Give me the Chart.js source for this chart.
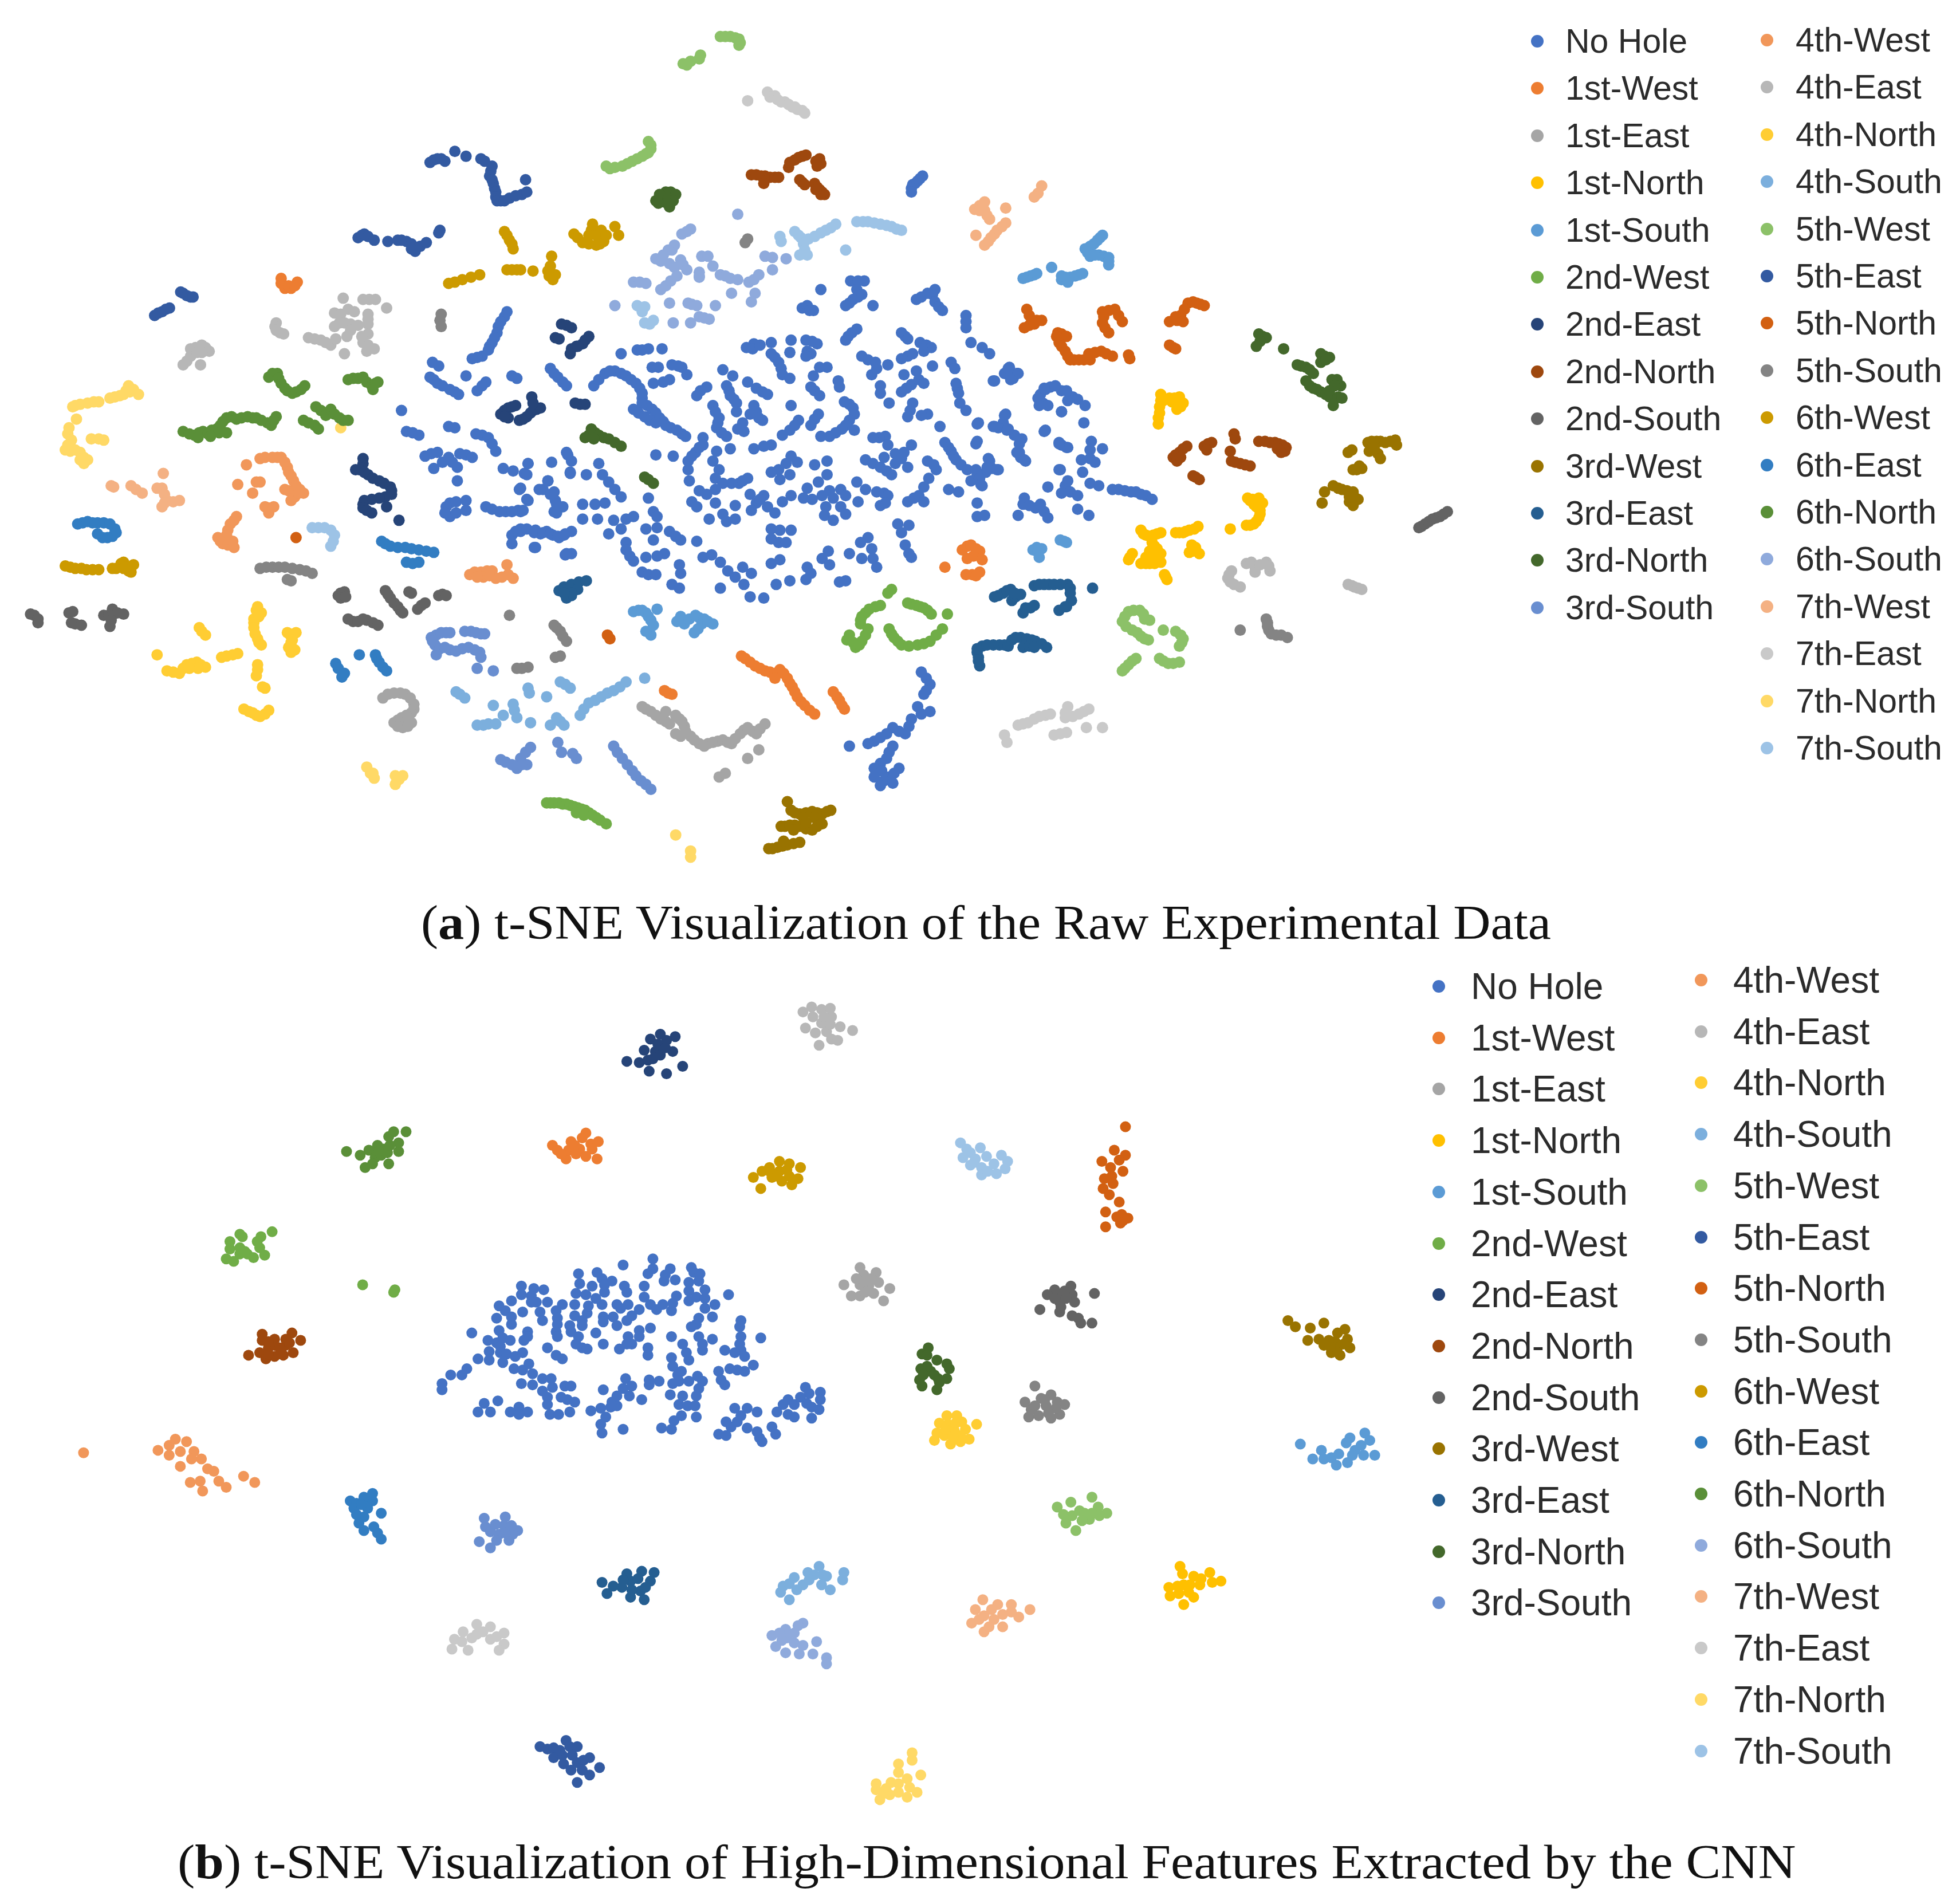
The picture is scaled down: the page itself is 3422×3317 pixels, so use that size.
<!DOCTYPE html>
<html lang="en">
<head>
<meta charset="UTF-8" />
<title>t-SNE Visualization</title>
<script src="https://cdn.jsdelivr.net/npm/chart.js"></script>
<style>
    body { margin: 0; background: #fff; width: 3422px; height: 3317px; position: relative; overflow: hidden; }
    canvas { position: absolute; }
    .lg { position: absolute; font-family: "Liberation Sans", Arial, sans-serif; color: #2b2b2b; white-space: nowrap; line-height: 1; transform: translateY(-50%); }
    .dot { position: absolute; width: 22px; height: 22px; border-radius: 50%; transform: translate(-50%, -50%); }
    .cap { position: absolute; font-family: "Liberation Serif", serif; font-size: 84px; color: #111; white-space: nowrap; line-height: 1; transform-origin: 0 50%; }
</style>
</head>
<body>
<canvas id="chartA" width="2641" height="1528" style="left:0;top:0"></canvas>
<canvas id="chartB" width="2466" height="1571" style="left:0;top:1658px"></canvas>
<div class="cap" id="capA" data-w="1973" style="left:735px;top:1569px">(<b>a</b>) t-SNE Visualization of the Raw Experimental Data</div>
<div class="cap" id="capB" data-w="2826" style="left:310px;top:3209px">(<b>b</b>) t-SNE Visualization of High-Dimensional Features Extracted by the CNN</div>
<script>
const labels = ["No Hole", "1st-West", "1st-East", "1st-North", "1st-South", "2nd-West", "2nd-East", "2nd-North", "2nd-South", "3rd-West", "3rd-East", "3rd-North", "3rd-South",
    "4th-West", "4th-East", "4th-North", "4th-South", "5th-West", "5th-East", "5th-North", "5th-South", "6th-West", "6th-East", "6th-North", "6th-South", "7th-West", "7th-East", "7th-North", "7th-South"]
const colors = ["#4472c4", "#ed7d31", "#a5a5a5", "#ffc000", "#5b9bd5", "#70ad47", "#264478", "#9e480e", "#636363", "#997300", "#255e91", "#43682b", "#698ed0",
    "#f1975a", "#b7b7b7", "#ffcd33", "#7cafdd", "#8cc168", "#335aa1", "#d26012", "#848484", "#cc9a00", "#327dc2", "#5a8f38", "#8faadc", "#f4b183", "#c9c9c9", "#ffd966", "#9dc3e6"]

// panel (a): raw data
const aNoHole = [[681,223],[687,223],[692,223],[686,230],[690,234],[687,236],[683,238],[680,241],[677,243],[699,243],[657,230],[642,245],[646,243],[648,247],[651,247],
[749,230],[747,234],[743,233],[738,236],[734,238],[749,240],[752,244],[755,247],[774,251],[774,256],[774,261],[778,273],[787,277],[793,282],[686,262],[682,265],[679,268],[677,271],[722,265],[725,268],[727,270],
[603,274],[597,277],[602,278],[608,275],[617,273],[633,271],[645,271],[650,272],[654,274],[646,280],[649,282],[496,282],[509,279],[513,279],[518,278],[529,278],
[439,294],[442,298],[445,301],[449,305],[452,308],[474,308],[478,303],[483,298],[487,296],[491,296],[496,298],[500,300],[504,303],[508,306],[511,310],[513,314],[513,318],[513,322],[517,324],[521,327],[524,330],[527,334],[530,337],[532,340],[536,342],[541,344],[545,347],[548,349],[506,327],[510,330],[515,333],[519,336],[524,338],
[521,293],[526,293],[537,291],[542,292],[545,293],[549,299],[535,303],[530,305],[522,306],[578,295],[586,300],[598,305],[565,309],[560,312],[557,316],[581,308],[583,312],[584,316],[587,319],[589,322],[589,329],[605,310],[610,313],[614,315],[570,324],[572,329],[575,334],[574,338],[573,342],[577,346],[581,349],[594,338],[595,345],[603,324],[605,329],[607,334],[562,350],[590,343],[600,331],[610,336],
[617,282],[620,285],[623,289],[625,294],[626,299],[632,302],[632,281],[645,284],[649,309],[652,312],[656,316],[662,293],[656,293],[671,304],[672,309],[651,300],
[633,324],[639,336],[636,340],[632,344],[626,348],[676,321],[680,323],[683,326],[684,331],[655,331],[652,335],[649,340],[680,336],[677,340],[674,343],[669,346],[664,349],[657,349],[684,344],[617,356],[611,357],[603,359],
[690,284],[695,287],[701,289],[711,291],[698,299],[702,294],[705,308],[705,314],[712,322],[722,286],[727,284],[731,282],[737,273],[742,275],[746,277],[740,280],[747,292],
[724,299],[734,296],[730,307],[726,310],[722,313],[736,303],[740,306],[762,289],[765,294],[766,306],[767,310],[768,314],[769,322],[774,328],[731,322],[729,328],[727,333],[743,331],[738,332],[753,341],
[809,293],[815,298],[812,302],[805,298],[797,304],[834,315],[838,311],[842,309],[851,312],[836,322],[860,317],[851,329],[806,331],[804,338],[796,341],[800,342],[807,344],[784,338],[838,344],
[709,349],[704,350],[699,350],[711,356],[730,356],[724,362],[717,363],[693,368],[699,371],[705,374],[710,377],[717,371],[714,380],[727,374],[722,367],[708,366],
[757,354],[760,358],[762,361],[764,365],[766,368],[770,372],[775,376],[782,355],[793,369],[800,376],[795,375],[790,378],[778,385],[787,389],[783,380],[819,351],[815,362],[818,366],[822,369],[851,356],[856,358],[850,376],
[743,369],[748,372],[750,376],[744,383],[740,390],[760,392],[768,394],[727,402],[732,399],[736,397],[740,402],[693,392],[702,394],[708,395],[711,397],[705,405],[709,403],
[524,364],[538,365],[556,362],[559,358],[562,356],[550,369],[553,365],[550,376],[551,385],[573,361],[584,359],[570,369],[575,376],[572,383],[578,387],[585,387],[598,383],[591,387],[594,385],
[559,393],[553,402],[557,406],[572,392],[565,396],[572,403],[567,416],[578,412],[588,405],[588,416],[581,418],[600,396],[605,403],[611,397],[601,409],[614,406],[620,411],[626,402],[633,397],[608,400],
[633,365],[629,371],[638,370],[623,376],[617,378],[632,380],[624,384],[652,372],[662,369],[662,380],[655,386],[646,391],[643,399],[658,397],[673,392],[686,386],[650,400],[664,393],
[667,399],[677,397],[687,402],[661,406],[673,406],[660,413],[667,417],[677,412],[617,424],[624,425],[633,425],[617,432],[623,435],[629,435],
[719,420],[728,421],[722,427],[725,437],[728,444],[730,447],[695,431],[689,435],[698,440],[699,448],[690,448],[702,455],[680,444],[663,442],[658,448],[664,453],
[617,452],[624,449],[646,455],[649,460],[645,465],[677,466],[672,467],[632,466],[621,469],[562,447],[569,445],[576,451],[582,458],[588,463],[595,469],[600,479],[611,480],[594,455],[601,460],[576,472],
[535,426],[540,430],[544,433],[557,434],[500,416],[506,414],[496,424],[486,428],[516,424],[525,423],[522,433],[522,410],[525,414],[518,399],[465,416],[477,416],[490,417],[465,404],[475,404],[483,403],[496,398],
[500,435],[500,441],[503,446],[531,444],[525,446],[506,450],[516,447],[513,459],[518,461],[524,461],[543,453],[544,460],[537,469],[543,472],
[478,371],[481,380],[486,386],[491,392],[452,362],[456,369],[440,370],[455,378],[468,380],[437,385],[433,392],[442,394],[443,401],[442,410],[449,406],[421,371],[418,379],[415,391],[420,400],[415,410],
[415,426],[426,427],[431,428],[436,426],[441,429],[446,431],[451,428],[456,426],[426,439],[451,445],[456,444],
[783,353],[817,355],[817,362],[813,348],[821,368],[849,354],[855,358],[875,353],[874,360],[884,359],[874,367],[867,368],[878,370],[792,367],[782,376],[791,374],[799,376],[785,383],[786,388],
[849,376],[868,378],[874,387],[881,389],[840,390],[854,389],[858,394],[864,397],[851,395],[856,385],[892,392],[897,392],[902,393],[907,394],[911,394],[915,396],[919,397],[924,400],
[821,399],[820,404],[825,405],[830,407],[837,410],[840,415],[834,404],[816,413],[864,408],[873,413],[783,403],[783,414],[789,413],
[808,294],[816,298],[810,303],[796,304],[832,318],[837,310],[846,308],[855,312],[833,324],[840,324],[856,320],[864,319],[870,324],[851,329],[805,332],[783,339],[797,341],[808,343],[837,345],[869,338],[849,355],
[738,540],[742,545],[745,550],[742,555],[740,558],[735,568],[745,572],[738,574],[730,578],[728,584],[725,590],[720,588],[715,585],[710,590],[705,593],[700,596],[695,598],[680,600],[715,600],[712,605],[710,610],[705,614],[700,618],[706,620],[712,625],[708,628],[705,632],[715,630],[700,625],[720,618],[716,622],[739,138],[737,140],[735,142],[733,144],[731,145],[730,148],[730,151],
[404,248],[402,252],[399,256],[397,260],[396,265],[394,269],[392,273],[390,276],[389,279],[384,284],[380,285],[376,286],[344,289],[349,292],[342,301],[345,303],[348,306],[352,308],[358,311],[362,313],[365,315],[371,300],[387,305],[384,308],[380,312],[408,300],[412,302],[319,328],[323,345],[328,346],[333,348],[357,341],[362,342],[379,347],[384,348],[389,350],[392,355],[395,361],
[338,365],[343,363],[348,362],[357,366],[366,363],[371,364],[376,366],[345,375],[364,374],[352,370],[360,370],[364,385],[401,375],[409,377],[421,371],[420,380],[414,392],[421,401],[355,406],[358,403],[363,402],[371,401],[358,414],[354,411],[363,411],[371,409],[387,406],[392,408],[398,410],[403,410],[408,410],[413,409],[417,409],
[408,429],[411,426],[415,424],[420,424],[427,425],[433,427],[439,428],[445,430],[450,429],[408,436],[427,439],[452,444],[430,392],[437,385],[439,396],[444,404],[444,411],[453,364],[455,379]]
const aW1 = [[222,225],[225,229],[230,229],[235,224],[222,221],[228,227],[233,227],[757,455],[771,441],[775,438],[778,437],[782,440],[785,442],[775,448],[780,446],[787,449],[774,461],[779,461],[785,459],[782,462],[593,527],[596,529],[600,532],[604,535],[608,537],[612,539],[616,540],[620,541],[624,538],[627,541],[630,545],[632,549],[634,552],[636,556],[638,560],[641,564],[644,567],[648,571],[652,574],[667,556],[670,560],[672,563],[674,567],[676,570],[620,545],[534,557],[537,558],[531,555]]
const aE1 = [[513,568],[516,570],[520,572],[524,575],[528,578],[532,580],[535,582],[540,575],[543,578],[545,580],[547,584],[548,588],[552,592],[555,595],[559,598],[563,600],[566,598],[570,597],[574,596],[578,595],[582,597],[585,598],[588,594],[592,590],[595,587],[598,585],[602,588],[605,590],[608,586],[612,582],[607,603],[598,610],[575,625],[580,622],[540,590],[544,592],[532,572],
[304,561],[308,558],[313,557],[318,557],[322,558],[326,561],[329,566],[329,570],[327,573],[323,575],[319,577],[316,579],[313,581],[316,584],[320,585],[324,584],[327,581]]
const aN1 = [[915,425],[917,428],[919,429],[922,430],[925,429],[928,428],[931,427],[924,435],[926,438],[928,440],[922,442],[925,443],[931,444],[919,447],[925,448],[928,448],[915,452],[919,452],[922,452],[926,452],[931,451],[908,444],[906,447],[905,449],[934,461],[935,463],[936,465],[943,427],[946,427],[949,427],[951,426],[954,425],[958,424],[961,422],[956,437],[954,443],[957,442],[962,444],[959,439],
[987,424],[1000,421],[1003,421],[1006,420],[1008,418],[1010,415],[1011,412],[1011,409],[1008,406],[1006,404],[1003,401],[1001,399],[1005,400],[1010,399],[1013,403],[931,315],[931,320],[930,325],[930,330],[929,334],[929,339],[933,320],[938,318],[942,318],[946,317],[949,322],[947,325],[944,327],[940,321]]
const aS1 = [[884,186],[882,188],[880,190],[877,193],[874,195],[870,197],[872,200],[874,203],[878,202],[881,202],[885,203],[889,204],[889,207],[889,210],[820,221],[823,220],[826,219],[829,218],[831,217],[843,212],[851,222],[856,224],[854,220],[851,219],[858,220],[862,219],[865,218],[868,217],[850,433],[853,434],[855,435],[828,441],[831,439],[835,440],[832,443],[833,447],
[506,491],[510,490],[513,490],[516,492],[518,495],[520,498],[522,502],[525,489],[544,495],[541,499],[547,501],[551,497],[556,494],[559,496],[563,497],[561,501],[566,499],[570,501],[555,508],[558,505],[520,510],[516,507]]
const aW2 = [[714,473],[711,476],[705,486],[701,487],[696,489],[693,492],[690,495],[689,498],[689,501],[727,484],[730,485],[734,486],[737,487],[740,488],[743,490],[746,493],[759,493],[680,510],[678,514],[685,520],[683,516],[695,505],[693,510],[690,515],[688,518],[712,505],[714,509],[716,512],[719,515],[722,518],[728,519],[735,518],[740,517],[745,515],[750,510],[755,505],[436,646],[439,646],[442,646],[446,646],[449,647],[452,647],[455,648],[458,649],[461,650],[464,651],[467,652],[470,654],[473,656],[476,658],[479,660],[484,663],[460,654],[466,656]]
const aE2 = [[399,331],[402,328],[405,326],[408,325],[411,324],[405,334],[402,333],[414,336],[417,335],[420,333],[423,330],[425,328],[428,327],[431,326],[424,317],[425,322],[448,258],[452,259],[456,261],[443,269],[446,270],[470,268],[467,271],[465,274],[460,276],[456,278],[455,282],[461,276],[459,322],[463,323],[467,323],
[288,367],[288,371],[287,375],[282,376],[285,376],[289,378],[292,380],[296,383],[301,385],[305,387],[310,390],[311,393],[311,396],[306,398],[301,399],[295,400],[289,401],[288,404],[288,407],[291,409],[295,411],[307,406],[317,417]]
const aN2 = [[601,137],[605,137],[609,138],[612,138],[616,139],[620,139],[623,139],[611,144],[631,131],[632,127],[636,125],[639,123],[642,122],[645,121],[656,124],[657,128],[653,126],[654,130],[640,141],[642,143],[644,145],[652,144],[654,147],[656,149],[658,151],[660,153],[657,153],[653,149],
[941,366],[943,364],[946,362],[949,359],[952,357],[944,369],[947,366],[966,357],[969,355],[972,354],[968,360],[987,361],[990,347],[991,351],[988,369],[991,370],[995,371],[999,372],[1003,373],[957,381],[959,382],[962,384],[1010,353],[1015,353],[1019,354],[1023,354],[1026,355],[1029,356],[1032,358],[1031,361],[1028,362],[1025,359]]
const aS2 = [[20,493],[23,494],[26,497],[26,500],[51,492],[54,491],[53,500],[56,501],[61,502],[86,489],[79,494],[83,494],[86,494],[90,492],[95,493],[84,503],[85,498],[268,478],[270,476],[273,475],[270,480],[274,479],[306,474],[308,477],[310,480],[313,484],[316,487],[318,490],[320,492],[325,475],[327,476],[332,489],[335,486],[338,484],[349,478],[352,477],[355,478],
[276,497],[280,499],[284,499],[288,497],[291,498],[296,500],[300,502],[1139,423],[1141,422],[1144,420],[1147,418],[1150,416],[1153,415],[1156,414],[1159,412],[1162,410]]
const aW3 = [[1082,362],[1085,360],[1098,354],[1101,353],[1105,353],[1108,353],[1112,354],[1116,353],[1120,352],[1121,356],[1099,361],[1103,358],[1106,363],[1108,367],[1086,376],[1089,376],[1093,375],[1091,373],[1070,389],[1074,391],[1077,392],[1081,393],[1086,394],[1063,394],[1061,403],[1083,402],[1087,398],[1090,400],[1086,405],[1083,398],
[630,645],[633,652],[636,654],[640,655],[645,654],[650,653],[654,654],[658,655],[662,653],[665,652],[643,658],[652,658],[625,665],[628,665],[632,664],[636,664],[640,665],[645,667],[650,668],[654,665],[658,663],[635,668],[645,662],[615,683],[618,683],[622,682],[626,681],[630,680],[635,679],[640,678],[627,677]]
const aE3 = [[797,479],[800,478],[804,476],[807,474],[810,473],[811,482],[814,479],[818,477],[813,476],[829,486],[826,488],[820,492],[822,488],[829,470],[833,469],[837,469],[841,469],[845,469],[850,469],[856,469],[858,472],[858,476],[859,482],[854,487],[849,490],[855,487],[876,472],[785,535],[784,531],[784,528],[783,524],[783,521],[787,519],[791,518],[796,518],[801,518],[805,518],[808,519],[811,514],[814,512],[818,512],[823,513],[827,514],[830,515],[835,517],[839,520],[820,520],[825,519],[829,520],
[446,474],[450,471],[456,469],[462,467],[468,466],[452,480],[456,478],[461,473],[456,476],[450,476]]
const aN3 = [[536,151],[532,151],[540,153],[528,156],[531,159],[535,163],[524,158],[527,153],[534,156],[538,158],[533,160],[526,160],[472,343],[470,348],[475,346],[478,348],[482,350],[486,351],[491,354],[496,357],[474,351],[467,350],[515,382],[518,384],[522,387],
[1010,266],[1013,268],[1016,269],[1011,272],[1008,276],[1030,278],[1060,282],[1063,284],[1067,285],[1060,289],[1064,287],[1041,291],[1044,292],[1048,293],[1051,295],[1054,298],[1073,303],[1069,303],[1076,308],[1071,308],[1051,308],[1054,310],[1057,311],[1060,313],[1064,315],[1067,317],[1071,319],[1074,317],[1077,318],[1070,324],[1067,312],[1048,304]]
const aS3 = [[343,512],[347,510],[351,508],[355,508],[358,508],[370,507],[375,507],[379,508],[383,509],[386,509],[346,518],[344,515],[347,526],[350,521],[354,520],[358,522],[363,523],[368,521],[373,520],[378,522],[382,524],[380,537],[393,539],[383,528],[399,611],[403,613],[408,615],[412,618],[415,610],[419,605],[423,601],[420,615],[416,615],[445,597],[448,605],[460,610],[457,606],[490,600],[493,605],[497,610],[501,615],[505,620],[508,624],[512,628],[516,631],[520,635]]
const aW4 = [[194,372],[205,367],[209,366],[215,366],[219,366],[222,366],[225,370],[227,374],[228,378],[230,381],[232,385],[234,389],[237,392],[240,395],[225,392],[228,393],[231,394],[230,401],[233,398],[236,395],[187,388],[202,386],[205,386],[199,395],[209,406],[212,407],[216,406],[212,411],[186,414],[184,417],[181,420],[179,425],[178,429],[171,431],[173,434],[175,436],[179,437],[184,439],[183,434],[374,461],[378,459],[383,459],[388,458],[392,458],[404,453],[409,464],[405,461],[395,464],[400,463],[385,463],[390,462],[380,463]]
const aE4 = [[985,464],[987,467],[990,469],[995,471],[988,458],[986,461],[1000,452],[1004,451],[1007,455],[1007,459],[1011,453],[1016,451],[1019,458],[1018,454],[1082,469],[1085,470],[1087,471],[1090,472],[1093,473],[143,291],[146,288],[149,284],[149,278],[153,277],[158,275],[161,277],[164,280],[157,291],[154,281],[158,281],
[272,237],[288,238],[293,238],[298,238],[307,245],[265,249],[270,250],[276,246],[281,248],[292,250],[292,254],[265,260],[269,257],[273,257],[278,258],[284,259],[292,258],[275,268],[278,263],[244,269],[249,270],[254,271],[258,273],[262,275],[266,270],[273,282],[288,273],[292,275],[297,278],[291,280],[292,266],[287,268],[218,257],[217,260],[218,263],[221,265],[224,266]]
const aN4 = [[156,504],[158,507],[161,510],[122,526],[130,539],[135,540],[140,541],[143,537],[146,534],[150,533],[154,532],[157,534],[161,536],[155,537],[148,537],[174,528],[178,527],[183,526],[187,525],[203,487],[206,492],[202,490],[200,497],[204,495],[200,500],[200,504],[201,509],[203,513],[204,516],[206,518],[227,508],[230,511],[234,508],[231,514],[230,516],[228,520],[230,524],[233,522],[203,534],[203,538],[202,543],[209,553],[207,552],[192,570],[196,572],[199,573],[202,575],[205,576],[209,574],[212,571]]
const aS4 = [[363,556],[366,558],[370,561],[380,583],[385,583],[389,582],[395,582],[393,567],[401,575],[409,566],[410,571],[412,577],[423,581],[421,553],[422,557],[436,560],[447,548],[451,550],[455,553],[439,583],[447,580],[444,577],[450,583],[463,575],[466,570],[470,565],[475,563],[480,560],[485,557],[490,555],[495,552],[500,548],[515,545]]
const aW5 = [[576,25],[580,25],[584,25],[588,26],[591,27],[592,30],[591,32],[546,47],[549,48],[552,45],[559,43],[560,40],[518,110],[520,113],[520,116],[518,119],[516,120],[513,122],[509,124],[505,126],[501,128],[497,130],[491,131],[487,132],[484,130],
[905,491],[909,490],[914,490],[917,493],[900,499],[902,495],[903,503],[908,506],[922,498],[918,497],[912,508],[915,511],[918,513],[921,514],[933,506],[943,507],[947,510],[949,513],[948,516],[946,519],[911,529],[908,531],[905,534],[902,537],[900,539],[930,529],[933,531],[937,533],[941,533],[946,532]]
const aE5 = [[342,127],[345,125],[348,124],[351,124],[354,126],[362,118],[371,122],[383,124],[386,126],[392,130],[391,134],[390,138],[392,141],[393,144],[394,148],[395,151],[395,155],[396,158],[399,158],[402,158],[406,156],[411,154],[416,153],[420,151],[419,141],[284,188],[287,186],[289,185],[292,187],[297,190],[308,191],[316,190],[319,190],[323,191],[327,193],[329,196],[330,199],[334,195],[339,192],[327,197],[350,182],[349,184],[120,251],[123,249],[126,248],[129,246],[132,245],[141,232],[143,233],[146,235],[149,236],[151,236]]
const aN5 = [[823,246],[825,251],[827,255],[831,255],[835,255],[821,261],[825,259],[829,258],[848,265],[851,266],[855,268],[847,268],[849,273],[851,276],[854,280],[856,284],[858,287],[861,287],[865,287],[869,287],[874,287],[873,282],[878,281],[883,280],[887,282],[892,284],[906,286],[905,283],[884,248],[889,247],[894,246],[897,251],[900,256],[884,257],[885,252],[886,261],[889,265],[953,241],[957,240],[960,241],[963,242],[966,243],[950,246],[947,251],[943,252],[938,256],[944,255],[949,256],[938,275],[941,277],[943,278],[234,431],[485,510],[487,513]]
const aS5 = [[205,456],[210,455],[215,455],[220,455],[225,455],[231,456],[237,457],[242,458],[247,460],[230,466],[227,465],[442,502],[444,504],[447,507],[449,511],[452,515],[443,528],[447,527],[406,494],[421,536],[416,537],[412,537],[995,506],[1016,497],[1017,500],[1017,503],[1018,506],[1020,509],[1024,510],[1028,510],[1033,512],[598,189],[596,192],[351,250],[350,255],[351,260]]
const aW6 = [[402,183],[404,186],[406,190],[408,193],[409,197],[357,225],[362,224],[368,222],[375,220],[382,218],[404,214],[408,214],[412,214],[415,214],[425,215],[440,203],[437,215],[439,211],[441,222],[443,218],[438,219],[458,185],[461,188],[465,192],[470,193],[473,177],[472,182],[476,194],[479,193],[482,191],[491,179],[494,186],[470,186],[476,186],[480,182],[484,186],[48,454],[52,455],[56,456],[61,456],[65,457],[70,457],[75,457],[86,456],[89,456],[93,452],[95,451],[97,455],[101,459],[99,458],[95,456],[103,453]]
const aE6 = [[58,420],[62,419],[66,418],[70,419],[74,419],[79,419],[84,420],[88,424],[89,427],[86,430],[82,431],[78,431],[74,428],[303,434],[306,436],[310,438],[316,439],[322,439],[327,440],[333,441],[339,442],[345,443],[323,451],[328,452],[333,451],[266,533],[268,537],[271,544],[273,541],[285,526],[298,526],[299,529],[301,532],[304,536],[307,539]]
const aN6 = [[212,301],[215,298],[219,298],[220,302],[222,306],[225,310],[227,312],[231,314],[234,313],[238,311],[241,308],[276,303],[280,302],[284,302],[288,301],[291,305],[295,308],[298,306],[300,305],[296,311],[143,345],[148,347],[152,348],[156,346],[159,345],[163,347],[166,344],[170,343],[173,340],[175,337],[178,334],[182,333],[186,335],[190,334],[195,333],[199,334],[202,334],[206,336],[211,338],[214,340],[218,333],[216,336],[178,346],[172,346],[165,349],[155,350],
[240,336],[244,338],[249,340],[252,343],[250,325],[254,328],[258,332],[262,327],[265,331],[269,334],[272,336],[276,336]]
const aS6 = [[552,181],[549,183],[545,185],[590,169],[539,194],[537,198],[534,198],[530,202],[524,205],[528,207],[535,209],[539,212],[544,206],[546,210],[549,214],[561,203],[566,203],[570,211],[559,220],[559,216],[576,218],[580,219],[584,221],[590,222],[599,224],[603,222],[607,218],[612,203],[618,204],[629,205],[618,214],[506,224],[511,224],[516,225],[528,230],[532,227],[536,223],[541,219],[559,219],[585,233],[604,233],[601,240],[535,241],[550,241],[553,242],[557,243],[572,243],[559,252],[563,253],[567,254],[538,257],[552,257],[491,243]]
const aW7 = [[789,159],[785,162],[781,165],[785,166],[789,166],[791,170],[793,173],[806,164],[806,176],[803,179],[799,182],[797,185],[794,188],[792,191],[789,194],[782,186],[835,146],[832,152],[829,155],[85,389],[87,390],[101,389],[105,392],[110,395],[127,379],[126,391],[122,391],[128,396],[130,401],[126,406],[128,403],[135,402],[140,401]]
const aE7 = [[598,77],[614,70],[616,74],[620,73],[622,76],[625,78],[628,78],[631,80],[634,82],[636,82],[638,84],[642,85],[644,87],[805,591],[807,597],[816,583],[820,582],[824,581],[829,578],[833,576],[838,575],[842,574],[856,568],[854,573],[854,577],[860,576],[865,574],[869,572],[873,570],[845,591],[850,590],[855,589],[871,585],[884,585]]
const aN7 = [[54,325],[56,324],[60,323],[66,322],[71,321],[75,321],[84,318],[88,317],[92,316],[99,308],[97,312],[95,315],[100,313],[103,311],[107,315],[57,335],[51,342],[50,347],[53,352],[50,356],[48,360],[52,361],[56,360],[60,362],[63,366],[66,368],[63,371],[60,368],[69,351],[79,352],[75,351],[291,617],[294,622],[297,626],[296,622],[314,624],[320,624],[317,627],[314,631],[540,672],[552,685],[552,690],[270,342]]
const aS7 = [[636,183],[639,186],[641,188],[643,193],[644,198],[640,202],[646,202],[624,187],[625,191],[647,189],[652,187],[657,184],[661,182],[665,180],[669,177],[677,198],[686,175],[691,175],[695,175],[700,176],[705,177],[710,178],[714,179],[718,181],[722,182],[247,423],[252,423],[257,423],[262,425],[265,429],[264,434],[262,438],[509,243],[515,244],[513,248],[515,257],[519,258],[522,255]]
const seriesA = [aNoHole, aW1, aE1, aN1, aS1, aW2, aE2, aN2, aS2, aW3, aE3, aN3, aS3, aW4, aE4, aN4, aS4, aW5, aE5, aN5, aS5, aW6, aE6, aN6, aS6, aW7, aE7, aN7, aS7]

// panel (b): CNN features
const bNoHole = [[522,1006],[498,1011],[522,1014],[518,1018],[536,1014],[532,1019],[531,1024],[540,1023],[553,1013],[555,1017],[560,1018],[559,1024],[462,1018],[463,1026],[477,1017],[481,1022],[489,1024],[473,1028],[483,1027],[483,1033],[416,1028],[416,1035],[426,1030],[434,1031],[424,1036],[424,1041],[428,1041],[437,1041],[499,1028],[501,1033],[515,1028],[515,1037],[520,1043],[525,1047],[530,1043],[541,1036],[538,1042],[537,1048],
[551,1025],[551,1032],[551,1040],[557,1037],[564,1031],[564,1038],[572,1043],[564,1046],[583,1035],[570,1053],[559,1054],[557,1059],[553,1061],[593,1056],[592,1061],[593,1069],[609,1070],[592,1075],[593,1080],[596,1085],[588,1082],[580,1080],[570,1071],[559,1069],[562,1075],[562,1080],[537,1069],[546,1075],[549,1082],[551,1088],[537,1086],[538,1093],
[520,1062],[511,1064],[511,1069],[502,1069],[505,1075],[501,1075],[495,1079],[482,1075],[476,1066],[518,1078],[518,1084],[493,1060],[490,1053],[493,1043],[502,1043],[496,1046],[511,1047],[505,1052],[501,1056],[482,1053],[482,1057],[469,1050],[470,1044],[468,1035],[481,1043],[476,1038],[460,1034],[459,1043],
[449,1043],[444,1048],[431,1049],[433,1056],[445,1054],[445,1059],[444,1065],[445,1069],[459,1052],[465,1056],[465,1060],[455,1060],[456,1065],[462,1069],[460,1075],[465,1078],[469,1079],[437,1078],[444,1084],[449,1087],[398,1044],[408,1040],[403,1048],[417,1049],[396,1054],[408,1053],[408,1059],
[376,1066],[398,1064],[421,1065],[421,1069],[418,1072],[389,1072],[396,1074],[401,1070],[407,1072],[399,1077],[390,1081],[381,1087],[390,1088],[399,1082],[404,1083],[401,1090],[411,1085],[417,1082],[410,1095],[417,1096],[422,1091],[425,1099],[372,1095],[368,1100],[359,1100],[352,1107],[352,1112],
[433,1103],[440,1103],[416,1107],[425,1108],[441,1110],[433,1113],[451,1109],[456,1109],[437,1118],[437,1124],[448,1118],[453,1120],[459,1122],[397,1121],[386,1123],[381,1130],[391,1130],[407,1130],[414,1126],[414,1132],[421,1130],[439,1132],[446,1132],[455,1130],
[472,1129],[480,1127],[488,1126],[493,1125],[489,1122],[493,1117],[498,1111],[482,1112],[500,1103],[505,1109],[503,1117],[513,1120],[484,1134],[480,1140],[481,1147],[498,1144],[519,1104],[519,1108],[527,1105],[538,1107],[543,1105],[551,1105],[545,1097],[542,1100],[536,1116],[546,1117],[543,1124],[550,1125],[556,1125],[557,1134],[545,1133],[539,1137],[537,1144],[529,1143],
[558,1101],[562,1105],[559,1111],[557,1117],[575,1097],[584,1095],[590,1096],[596,1097],[603,1092],[577,1104],[580,1108],[588,1127],[598,1127],[593,1133],[606,1130],[581,1138],[590,1138],[585,1142],[575,1148],[581,1149],[598,1143],[606,1146],[608,1151],[610,1154],[618,1142],[621,1148],
[622,1130],[627,1124],[631,1120],[636,1124],[631,1132],[636,1134],[645,1110],[648,1115],[641,1118],[657,1114],[657,1120],[646,1123],[650,1126],[656,1128],[650,1135]]
const bW1 = [[441,914],[445,918],[452,925],[456,911],[454,918],[463,917],[468,904],[465,908],[472,913],[478,911],[468,923],[477,925],[473,917],[459,914],[448,921],[460,921]]
const bE1 = [[676,1027],[689,1013],[692,1019],[702,1017],[689,1027],[696,1028],[704,1025],[682,1036],[689,1036],[700,1034],[713,1030],[708,1040],[693,1024],[686,1022],[698,1022],[693,1033]]
const bN1 = [[947,1255],[949,1261],[971,1260],[958,1263],[964,1265],[980,1267],[973,1268],[963,1270],[938,1272],[945,1271],[950,1270],[939,1279],[954,1276],[958,1280],[950,1286],[955,1270],[946,1277]]
const bS1 = [[1044,1156],[1054,1168],[1061,1161],[1063,1168],[1069,1167],[1073,1173],[1075,1164],[1082,1171],[1084,1151],[1081,1155],[1088,1161],[1093,1157],[1096,1147],[1100,1153],[1095,1165],[1104,1165],[1086,1165]]
const bW2 = [[189,986],[191,988],[206,988],[215,984],[203,992],[181,992],[181,998],[189,997],[205,997],[178,1006],[184,1008],[195,1002],[200,1005],[209,1003],[189,1002],[193,1000],[288,1027],[314,1031],[313,1033]]
const bE2 = [[501,846],[511,847],[515,837],[520,828],[528,824],[540,826],[533,829],[538,838],[524,838],[529,835],[522,844],[519,854],[533,856],[546,850],[528,841],[518,845],[526,832],[532,835]]
const bN2 = [[207,1067],[207,1072],[217,1071],[231,1066],[226,1071],[238,1072],[212,1078],[217,1076],[226,1076],[196,1084],[205,1082],[210,1087],[217,1085],[224,1084],[232,1082],[212,1073],[221,1078],[212,1083],[229,1074]]
const bS2 = [[859,1028],[846,1031],[840,1035],[850,1035],[860,1035],[878,1034],[850,1041],[862,1041],[834,1047],[850,1049],[860,1052],[865,1054],[867,1058],[876,1058],[854,1032],[855,1038],[846,1038],[851,1045]]
const bW3 = [[1034,1056],[1040,1061],[1052,1062],[1063,1058],[1050,1072],[1059,1071],[1063,1076],[1080,1063],[1074,1066],[1072,1073],[1082,1071],[1084,1078],[1069,1082],[1076,1084],[1067,1072],[1074,1078],[1068,1077],[1079,1075]]
const bE3 = [[481,1268],[485,1277],[501,1261],[513,1259],[523,1260],[504,1267],[520,1267],[512,1275],[497,1272],[504,1280],[515,1282],[490,1271],[510,1265],[516,1272],[505,1274],[498,1266]]
const bN3 = [[744,1078],[739,1083],[743,1084],[751,1088],[759,1091],[761,1095],[738,1095],[746,1097],[759,1103],[749,1100],[737,1104],[753,1106],[739,1109],[751,1112],[743,1093],[740,1100],[752,1103]]
const bS3 = [[386,1216],[403,1215],[387,1223],[413,1226],[402,1222],[398,1229],[406,1234],[382,1235],[391,1240],[409,1229],[391,1227],[395,1221],[396,1234],[403,1228],[408,1222]]
const bW4 = [[63,1163],[123,1161],[132,1157],[137,1152],[146,1154],[132,1165],[141,1162],[152,1162],[150,1168],[158,1168],[141,1174],[163,1176],[168,1178],[149,1187],[157,1186],[172,1186],[178,1191],[159,1194],[192,1182],[201,1187]]
const bE4 = [[643,806],[650,802],[658,804],[665,803],[651,810],[666,810],[658,815],[645,819],[653,823],[662,822],[673,818],[683,821],[666,828],[671,829],[656,833],[660,810],[665,816]]
const bN4 = [[759,1133],[767,1133],[753,1139],[771,1138],[783,1140],[751,1147],[765,1145],[774,1144],[749,1153],[762,1156],[770,1154],[777,1152],[757,1149],[760,1140],[766,1139],[758,1144],[770,1149],[764,1150]]
const bS4 = [[656,1255],[659,1262],[676,1260],[675,1266],[636,1264],[647,1260],[652,1262],[662,1263],[658,1270],[627,1271],[632,1269],[643,1270],[638,1274],[665,1274],[625,1276],[632,1282],[648,1266]]
const bW5 = [[876,1199],[848,1207],[859,1203],[866,1210],[881,1207],[888,1212],[855,1220],[874,1217],[863,1226],[870,1212],[876,1212],[860,1214],[868,1218],[853,1213],[882,1214]]
const bE5 = [[431,1401],[437,1403],[442,1402],[452,1396],[455,1401],[461,1401],[442,1410],[449,1408],[457,1408],[471,1410],[450,1415],[461,1414],[466,1412],[479,1418],[471,1424],[461,1430],[456,1420],[465,1420],[447,1404]]
const bN5 = [[903,899],[894,918],[903,922],[884,927],[898,926],[891,932],[901,935],[892,939],[886,941],[893,945],[885,949],[890,954],[898,960],[887,968],[896,972],[901,975],[900,970],[899,977],[887,980],[905,973]]
const bS5 = [[830,1109],[835,1119],[843,1116],[822,1122],[848,1122],[854,1124],[839,1125],[827,1128],[850,1132],[825,1134],[833,1133],[843,1135],[838,1120],[847,1127],[841,1131],[830,1125]]
const bW6 = [[603,940],[610,935],[609,949],[616,932],[624,927],[632,929],[641,932],[618,940],[626,943],[632,939],[639,941],[634,946],[624,935],[617,936],[630,934],[622,939]]
const bE6 = [[296,1196],[278,1202],[283,1204],[296,1202],[281,1208],[289,1215],[292,1204],[303,1212],[289,1226],[300,1228],[303,1233],[289,1199],[292,1208],[285,1220],[287,1205],[297,1223],[283,1213]]
const bN6 = [[275,919],[286,922],[293,918],[300,914],[305,917],[298,924],[296,929],[290,932],[309,929],[308,920],[317,919],[317,912],[309,907],[313,903],[323,903],[303,922],[310,914],[301,919]]
const bS6 = [[643,1301],[639,1303],[629,1306],[636,1309],[618,1311],[624,1309],[654,1316],[621,1320],[636,1317],[629,1325],[640,1326],[651,1326],[662,1329],[662,1334],[630,1313],[643,1319],[626,1315]]
const bW7 = [[788,1282],[800,1286],[811,1286],[782,1290],[826,1290],[789,1295],[804,1294],[817,1296],[779,1301],[789,1308],[804,1304],[797,1298],[785,1298],[795,1290],[811,1292],[793,1304]]
const bE7 = [[380,1302],[391,1304],[402,1309],[369,1308],[362,1314],[376,1313],[391,1314],[402,1318],[360,1322],[373,1323],[398,1323],[385,1308],[380,1310],[396,1312],[368,1316]]
const bN7 = [[731,1406],[731,1412],[720,1415],[738,1424],[720,1422],[727,1427],[702,1431],[735,1438],[713,1440],[727,1442],[702,1436],[705,1444],[720,1431],[714,1430],[710,1435],[729,1434],[720,1438],[708,1439]]
const bS7 = [[770,912],[778,920],[772,924],[778,930],[786,916],[791,923],[803,922],[797,929],[787,932],[787,938],[799,937],[808,927],[806,933],[775,917],[782,925],[792,935],[781,928]]
const seriesB = [bNoHole, bW1, bE1, bN1, bS1, bW2, bE2, bN2, bS2, bW3, bE3, bN3, bS3, bW4, bE4, bN4, bS4, bW5, bE5, bN5, bS5, bW6, bE6, bN6, bS6, bW7, bE7, bN7, bS7]

function scatter(id, series, xMax, yMin, yMax, radius) {
    new Chart(document.getElementById(id), {
        type: "scatter",
        data: {
            datasets: series.map((pts, i) => ({
                label: labels[i],
                data: pts.map(p => ({ x: p[0], y: p[1] })),
                backgroundColor: colors[i],
                borderWidth: 0,
                pointRadius: radius,
            })),
        },
        options: {
            responsive: false,
            animation: false,
            devicePixelRatio: 1,
            layout: { padding: 0 },
            plugins: { legend: { display: false }, tooltip: { enabled: false } },
            scales: {
                x: { display: false, min: 0, max: xMax },
                y: { display: false, min: yMin, max: yMax, reverse: true },
            },
        },
    })
}
scatter("chartA", seriesA, 1210, 0, 700, 10)
scatter("chartB", seriesB, 1130, 760, 1480, 9.5)

// legends: two columns, first 13 entries left, rest right
function legend(x1, t1, y1, x2, t2, y2, step, size) {
    labels.forEach((name, i) => {
        const left = i < 13
        const y = left ? y1 + i * step : y2 + (i - 13) * step
        const dot = document.createElement("div")
        dot.className = "dot"
        dot.style.cssText = `left:${left ? x1 : x2}px;top:${y}px;background:${colors[i]}`
        const txt = document.createElement("div")
        txt.className = "lg"
        txt.textContent = name
        txt.style.cssText = `left:${left ? t1 : t2}px;top:${y}px;font-size:${size}px`
        document.body.append(dot, txt)
    })
}
legend(2684, 2733, 72, 3085, 3135, 70, 82.4, 59)
legend(2512, 2568, 1722, 2970, 3026, 1711, 89.7, 64)

// captions were set in a wider serif, stretch to the same width
document.querySelectorAll(".cap").forEach(el => {
    el.style.transform = `scaleX(${el.dataset.w / el.offsetWidth})`
})
</script>
</body>
</html>
